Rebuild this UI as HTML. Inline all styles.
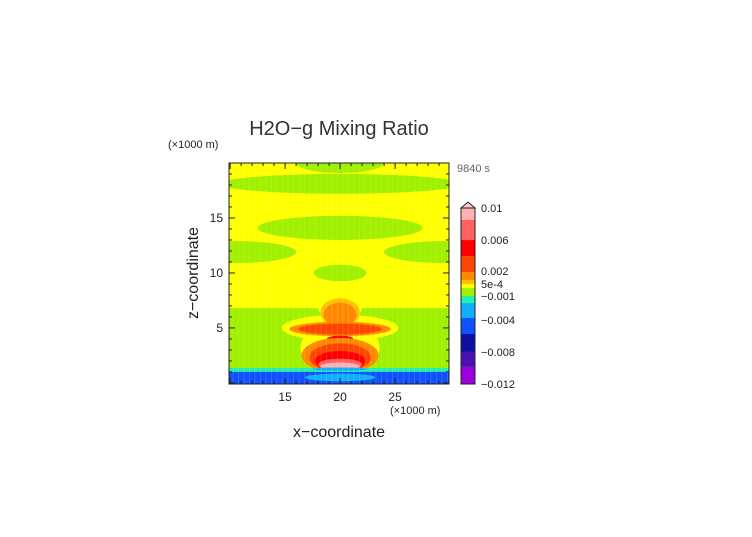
<!DOCTYPE html>
<html><head><meta charset="utf-8"><style>
body{margin:0;background:#fff;}
svg text{font-family:"Liberation Sans",sans-serif;fill:#222;}
</style></head><body>
<svg id="c" width="752" height="532" viewBox="0 0 752 532">
<defs><clipPath id="pc"><rect x="229" y="163" width="220" height="221"/></clipPath></defs>
<text x="339" y="135" font-size="20" text-anchor="middle" style="fill:#333">H2O−g Mixing Ratio</text>
<text x="168" y="148" font-size="11">(×1000 m)</text>
<text x="457" y="172" font-size="11" style="fill:#666">9840 s</text>
<text x="198" y="273" font-size="16" text-anchor="middle" transform="rotate(-90 198 273)">z−coordinate</text>
<text x="339" y="437" font-size="16" text-anchor="middle">x−coordinate</text>
<text x="390" y="414" font-size="11">(×1000 m)</text>
<g id="field" clip-path="url(#pc)"></g>
<g id="axes"></g>
<g id="cbar"></g>
</svg>
<script>
// color levels (lowest to highest)
const levelColors = ["#9a00e0","#4a10b0","#1010a0","#1050ff","#10b0ff","#20f0b0","#a0f000","#ffff00","#ffc000","#ff8800","#ff4400","#ff0000","#ff6060","#ffb0b0"];
// horizontal bands (data units: z from, z to, level)
const bandZ0 = [-0.5, 6.8, 1.0, -0.5];
const bandZ1 = [20.5, 6.8, 1.35, 1.0];
const bandLevel = [7, 6, 5, 3];
// contour shapes (data units: x km, z km, half-widths), drawn in order
const shapeCx = [20, 20, 12, 28, 20, 20, 10.5, 29.5, 20, 12.8, 27.2, 20, 20, 20, 20, 20, 20, 20, 20, 20, 20, 20, 20, 20, 20, 20];
const shapeCz = [20, 18.1, 16.4, 16.4, 15.7, 14.1, 11.9, 11.9, 10, 7.8, 7.8, 5.0, 3.2, 6.9, 6.4, 6.2, 4.9, 4.9, 4.0, 2.5, 2.3, 2.0, 1.7, 1.5, 0.5, 1.25];
const shapeRx = [4, 11, 3, 3, 3.5, 7.5, 5.5, 5.5, 2.4, 4, 4, 5.3, 3.6, 2.0, 1.8, 1.5, 4.6, 3.8, 1.2, 3.5, 2.8, 2.3, 2.0, 1.8, 3.2, 2.5];
const shapeRz = [0.9, 0.9, 0.6, 0.6, 0.45, 1.1, 1.0, 1.0, 0.75, 0.35, 0.35, 1.2, 2.4, 1.4, 1.3, 1.1, 0.65, 0.5, 0.3, 1.6, 1.3, 0.9, 0.5, 0.35, 0.35, 0.15];
const shapeLevel = [6, 6, 7, 7, 7, 6, 6, 6, 6, 7, 7, 7, 7, 7, 8, 9, 9, 10, 11, 9, 10, 11, 12, 13, 4, 4];
// colorbar
const cbarLabels = ["0.01","0.006","0.002","5e-4","−0.001","−0.004","−0.008","−0.012"];
const cbarLabelPos = [1, 0.818, 0.642, 0.568, 0.5, 0.364, 0.182, 0];
const cbarBounds = [1, 0.932, 0.818, 0.727, 0.636, 0.591, 0.568, 0.545, 0.5, 0.46, 0.375, 0.284, 0.182, 0.097, 0];
const xTicks = [15, 20, 25];
const yTicks = [5, 10, 15];

const NS = "http://www.w3.org/2000/svg";
const X0 = 229, X1 = 449, Y0 = 384, Y1 = 163;
const xmin = 9.9, xmax = 29.9, zmin = -0.1, zmax = 20;
const sx = v => X0 + (v - xmin) / (xmax - xmin) * (X1 - X0);
const sz = v => Y0 - (v - zmin) / (zmax - zmin) * (Y0 - Y1);
const kx = (X1 - X0) / (xmax - xmin), kz = (Y0 - Y1) / (zmax - zmin);
function mk(t, a, p) { const e = document.createElementNS(NS, t); for (const k in a) e.setAttribute(k, a[k]); p.appendChild(e); return e; }

const field = document.getElementById('field');
// lower green region
const low = () => {};
for (let i = 0; i < bandZ0.length; i++) {
  let z0 = bandZ0[i], z1 = bandZ1[i];
  if (i === 1) { z0 = -0.5; }
  const r = mk('rect', {x: X0 - 2, y: sz(z1), width: X1 - X0 + 4, height: sz(z0) - sz(z1), fill: levelColors[bandLevel[i]]}, field);
  
  
  if (i === 1) {
    for (let j = 0; j < shapeCx.length; j++) {
      if (j === 9 || j === 10) continue;
    }
  }
}
for (let i = 0; i < shapeCx.length; i++) {
  const e = mk('ellipse', {cx: sx(shapeCx[i]), cy: sz(shapeCz[i]), rx: shapeRx[i] * kx, ry: shapeRz[i] * kz, fill: levelColors[shapeLevel[i]]}, field);
  
  
}
// re-draw bottom bands on top of plume
for (let i = 2; i < bandZ0.length; i++) {
  const r = mk('rect', {x: X0 - 2, y: sz(bandZ1[i]), width: X1 - X0 + 4, height: sz(bandZ0[i]) - sz(bandZ1[i]), fill: levelColors[bandLevel[i]]}, field);
  
  
}
for (let i = shapeCx.length - 2; i < shapeCx.length; i++) {
  const e = mk('ellipse', {cx: sx(shapeCx[i]), cy: sz(shapeCz[i]), rx: shapeRx[i] * kx, ry: shapeRz[i] * kz, fill: levelColors[shapeLevel[i]]}, field);
  
  
}
for (let x = X0 + 4; x < X1; x += 5.5) mk('line', {x1: x, y1: Y1, x2: x, y2: Y0, stroke: '#fff', 'stroke-opacity': 0.12, 'stroke-width': 1}, field);

const ax = document.getElementById('axes');
const frame = mk('rect', {x: X0, y: Y1, width: X1 - X0, height: Y0 - Y1, fill: 'none', stroke: '#222', 'stroke-width': 1}, ax);


for (let v = 10; v <= 29; v++) {
  const L = v % 5 === 0 ? 6 : 3, x = sx(v);
  mk('line', {x1: x, y1: Y0, x2: x, y2: Y0 - L, stroke: '#222'}, ax);
  mk('line', {x1: x, y1: Y1, x2: x, y2: Y1 + L, stroke: '#222'}, ax);
}
for (let v = 0; v <= 20; v++) {
  const L = v % 5 === 0 ? 6 : 3, y = sz(v);
  mk('line', {x1: X0, y1: y, x2: X0 + L, y2: y, stroke: '#222'}, ax);
  mk('line', {x1: X1, y1: y, x2: X1 - L, y2: y, stroke: '#222'}, ax);
}
xTicks.forEach(v => { const t = mk('text', {x: sx(v), y: 401, 'font-size': 12, 'text-anchor': 'middle'}, ax); t.textContent = v;
    });
yTicks.forEach(v => { const t = mk('text', {x: 223, y: sz(v) + 4, 'font-size': 12, 'text-anchor': 'end'}, ax); t.textContent = v;
    });

const cb = document.getElementById('cbar');
const CX = 461, CW = 14, CT = 208, CB = 384;
const cy = f => CB - f * (CB - CT);
for (let i = 0; i < cbarBounds.length - 1; i++) {
  const r = mk('rect', {x: CX, y: cy(cbarBounds[i]), width: CW, height: cy(cbarBounds[i + 1]) - cy(cbarBounds[i]), fill: levelColors[levelColors.length - 1 - i]}, cb);
  
  
}
const tri = mk('polygon', {points: `${CX},${CT} ${CX + CW},${CT} ${CX + CW / 2},${CT - 6}`, fill: '#ffc8c8', stroke: '#222'}, cb);


mk('rect', {x: CX, y: CT, width: CW, height: CB - CT, fill: 'none', stroke: '#222'}, cb);
cbarLabels.forEach((s, i) => { const t = mk('text', {x: 481, y: cy(cbarLabelPos[i]) + 4, 'font-size': 11}, cb); t.textContent = s;
    });
</script>
</body></html>
